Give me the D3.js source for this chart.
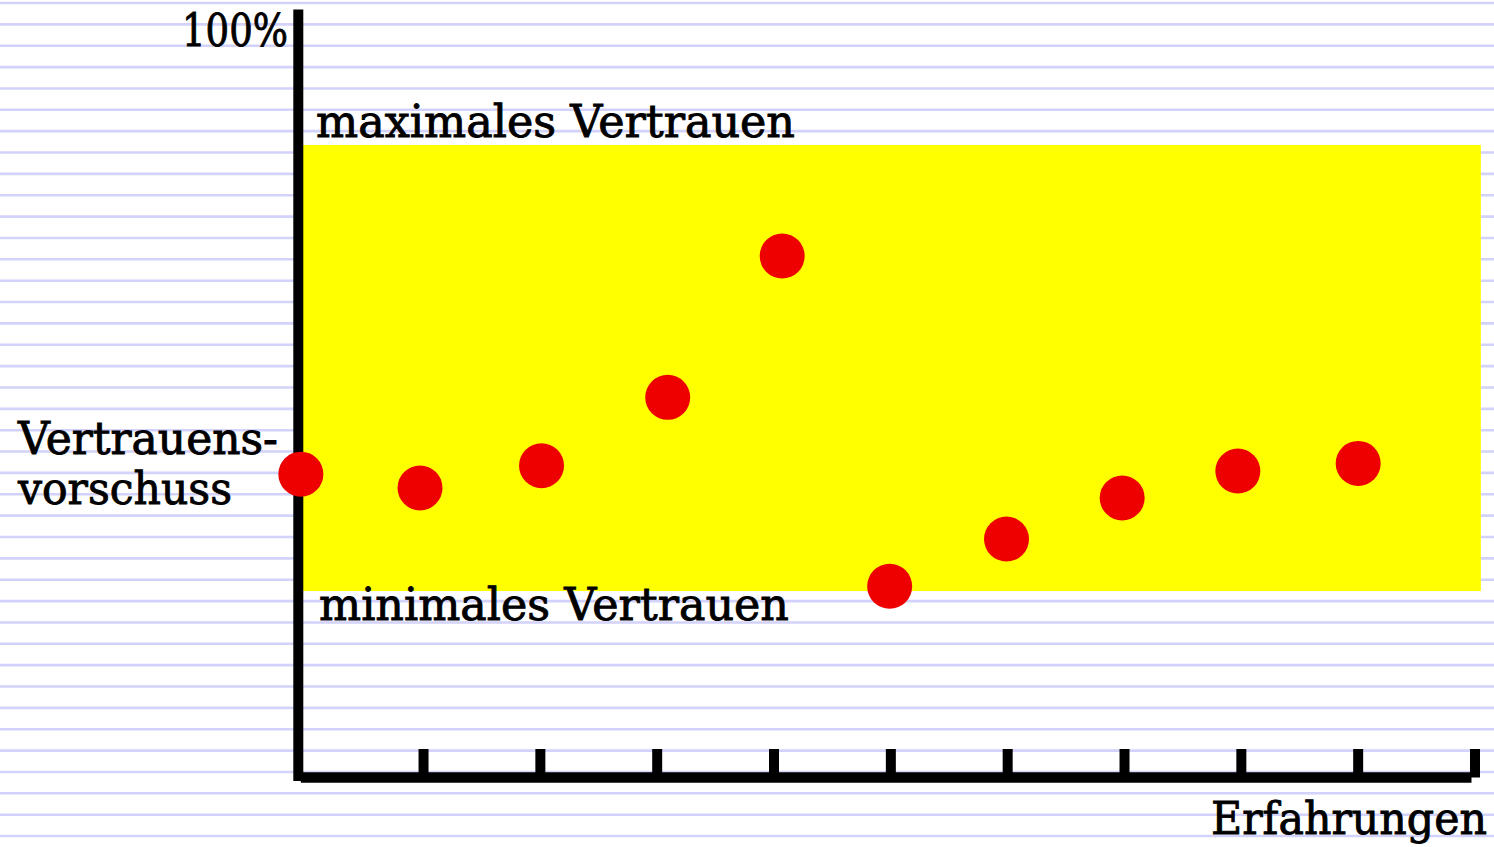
<!DOCTYPE html>
<html>
<head>
<meta charset="utf-8">
<script src="https://cdn.jsdelivr.net/npm/d3@7/dist/d3.min.js"></script>
<style>
  html, body { margin: 0; padding: 0; background: #ffffff; }
  svg { display: block; }
  text { font-family: "DejaVu Serif", "Liberation Serif", serif; fill: #000; }
</style>
</head>
<body>
<svg id="chart" width="1494" height="847"></svg>
<script>
// ---- data ----
const experienceX = [-0.05, 0.97, 2.01, 3.09, 4.07, 4.99, 5.99, 6.98, 7.97, 9.0];
const trustValues = [39.5, 37.7, 40.6, 49.5, 67.9, 24.9, 31.05, 36.4, 39.9, 40.9];
const tickValues = [1, 2, 3, 4, 5, 6, 7, 8, 9, 10];
const bandRange = [24.28, 82.36];          // minimal / maximal trust (%)
const yTopLabel = "100%";
const maxLabel = "maximales Vertrauen";
const minLabel = "minimales Vertrauen";
const yLabelLines = ["Vertrauens-", "vorschuss"];
const xLabel = "Erfahrungen";

const W = 1494, H = 847;
const svg = d3.select("#chart");

const x = d3.scaleLinear().domain([0, 10]).range([306.7, 1475]);
const y = d3.scaleLinear().domain([0, 100]).range([777.5, 9.5]);

// background ruled lines
const ruleY = d3.range(0, 40).map(i => 3 + i * 21.36);
svg.append("g").selectAll("line").data(ruleY).join("line")
  .attr("x1", 0).attr("x2", W)
  .attr("y1", d => d).attr("y2", d => d)
  .attr("stroke", "#d2d2fa").attr("stroke-width", 2.6);

// yellow band
svg.append("rect")
  .attr("x", x(-0.032)).attr("width", x(10.05) - x(-0.032))
  .attr("y", y(bandRange[1])).attr("height", y(bandRange[0]) - y(bandRange[1]))
  .attr("fill", "#ffff00");

// y axis line
svg.append("line")
  .attr("x1", 298.3).attr("x2", 298.3)
  .attr("y1", y(100)).attr("y2", y(-0.45))
  .attr("stroke", "#000").attr("stroke-width", 10);

// x axis line
svg.append("line")
  .attr("x1", x(-0.05)).attr("x2", x(9.97))
  .attr("y1", y(0)).attr("y2", y(0))
  .attr("stroke", "#000").attr("stroke-width", 10.5);

// ticks
svg.append("g").selectAll("line").data(tickValues).join("line")
  .attr("x1", d => x(d)).attr("x2", d => x(d))
  .attr("y1", y(0) - 28.5).attr("y2", y(0))
  .attr("stroke", "#000").attr("stroke-width", 10);

// points
svg.append("g").selectAll("circle").data(trustValues).join("circle")
  .attr("cx", (d, i) => x(experienceX[i]))
  .attr("cy", d => y(d))
  .attr("r", 22.5)
  .attr("fill", "#ee0000");

// labels
function label(txt, xx, yy, len) {
  svg.append("text")
    .attr("x", xx).attr("y", yy)
    .attr("font-size", 44)
    .attr("stroke", "#000")
    .attr("stroke-width", 0.9)
    .attr("textLength", len)
    .attr("lengthAdjust", "spacingAndGlyphs")
    .text(txt);
}
label(yTopLabel, 182, 46, 106);
label(maxLabel, 316, 137, 479);
label(minLabel, 319, 620, 470);
label(yLabelLines[0], 18, 454, 260);
label(yLabelLines[1], 18, 504, 214);
label(xLabel, 1211, 834, 276);
</script>
</body>
</html>
